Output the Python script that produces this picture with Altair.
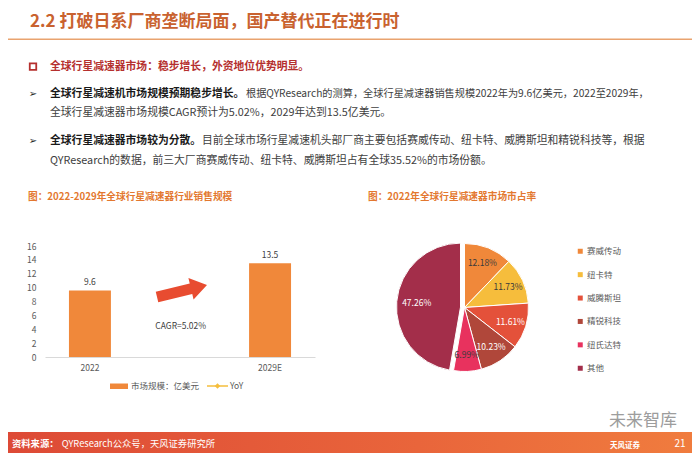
import altair as alt
import pandas as pd

# ---------------- data ----------------
slide_title = "2.2 打破日系厂商垄断局面，国产替代正在进行时"
section_head = "全球行星减速器市场：稳步增长，外资地位优势明显。"
bullet1_bold = "全球行星减速机市场规模预期稳步增长。"
bullet1_rest = "根据QYResearch的测算，全球行星减速器销售规模2022年为9.6亿美元，2022至2029年，"
bullet1_line2 = "全球行星减速器市场规模CAGR预计为5.02%，2029年达到13.5亿美元。"
bullet2_bold = "全球行星减速器市场较为分散。"
bullet2_rest = "目前全球市场行星减速机头部厂商主要包括赛威传动、纽卡特、威腾斯坦和精锐科技等，根据"
bullet2_line2 = "QYResearch的数据，前三大厂商赛威传动、纽卡特、威腾斯坦占有全球35.52%的市场份额。"

bar_title = "图：2022-2029年全球行星减速器行业销售规模"
pie_title = "图：2022年全球行星减速器市场市占率"

years = ["2022", "2029E"]
market_size = [9.6, 13.5]
y_ticks = [0, 2, 4, 6, 8, 10, 12, 14, 16]
cagr_label = "CAGR=5.02%"
bar_legend_labels = ["市场规模：亿美元", "YoY"]

companies = ["赛威传动", "纽卡特", "威腾斯坦", "精锐科技", "纽氏达特", "其他"]
shares = [12.18, 11.73, 11.61, 10.23, 6.99, 47.26]

source_label = "资料来源："
source_text = "QYResearch公众号，天风证券研究所"
page_number = "21"
watermark = "未来智库"
logo_text = "天风证券"

# ---------------- styling ----------------
FONT = "Noto Sans CJK SC"
W, H = 684, 445
ORANGE = "#F0883A"
YOY = "#F5BE3C"
pie_colors = ["#F0883A", "#F6BD3C", "#E4513A", "#B0473A", "#E8325E", "#A32E4A"]
CX, CY, R = 456.5, 299.5, 64


def label(text, x, y, size, color, weight="normal", align="left", baseline="middle", font=FONT, **kw):
    return alt.Chart(pd.DataFrame({"t": [text]})).mark_text(
        align=align, baseline=baseline, fontSize=size, color=color,
        fontWeight=weight, font=font, **kw
    ).encode(x=alt.value(x), y=alt.value(y), text="t:N")


layers = []

# ---- header ----
layers.append(label(slide_title, 22, 13.7, 17, "#C9622F", weight="bold"))
layers.append(
    alt.Chart(pd.DataFrame({"t": [slide_title]})).mark_rule(color="#E9A36F", strokeWidth=1.5)
    .encode(x=alt.value(0), x2=alt.value(W), y=alt.value(31.3))
)

# ---- body text ----
layers.append(
    alt.Chart(pd.DataFrame({"t": [section_head]})).mark_point(
        shape="square", filled=False, size=42, strokeWidth=1.8, color="#B5302E", opacity=1)
    .encode(x=alt.value(25), y=alt.value(58.7))
)
layers.append(label(section_head, 42, 58.7, 10.8, "#B5302E", weight="bold"))
for yy in (86.3, 133):
    layers.append(label("➢", 25, yy, 10, "#262626", align="center", font="DejaVu Sans"))
layers.append(label(bullet1_bold, 42, 86.3, 10.8, "#1a1a1a", weight="bold"))
layers.append(label(bullet1_rest, 238, 86.3, 10.2, "#404040"))
layers.append(label(bullet1_line2, 42, 105.3, 10.8, "#404040"))
layers.append(label(bullet2_bold, 42, 133, 10.8, "#1a1a1a", weight="bold"))
layers.append(label(bullet2_rest, 194, 133, 10.8, "#404040"))
layers.append(label(bullet2_line2, 42, 153, 10.8, "#404040"))

# ---- chart titles ----
layers.append(label(bar_title, 20, 189.3, 9.7, "#E3782F", weight="bold"))
layers.append(label(pie_title, 360, 189.3, 9.7, "#E3782F", weight="bold"))

# ---- bar chart ----
bar_df = pd.DataFrame({"year": years, "size": market_size})
x_enc = alt.X(
    "year:N", sort=years,
    scale=alt.Scale(range=[37, 307], paddingInner=0.767, paddingOuter=0.133),
    axis=alt.Axis(orient="bottom", offset=349 - H, title=None, labelAngle=0, ticks=False,
                  domainColor="#D9D9D9", labelFontSize=8.5, labelColor="#595959",
                  labelPadding=6, labelFont=FONT, grid=False),
)
y_enc = alt.Y(
    "size:Q",
    scale=alt.Scale(domain=[0, 16], range=[349, 238], nice=False, zero=True),
    axis=alt.Axis(orient="left", offset=-37, values=y_ticks, title=None, domain=False,
                  ticks=False, grid=False, labelPadding=9, labelFontSize=8.5,
                  labelColor="#595959", labelFont=FONT),
)
layers.append(alt.Chart(bar_df).mark_bar(color=ORANGE).encode(x=x_enc, y=y_enc))
layers.append(
    alt.Chart(bar_df).mark_text(baseline="bottom", dy=-3, fontSize=8.5, color="#404040", font=FONT)
    .encode(x=x_enc, y=y_enc, text=alt.Text("size:Q", format=".1f"))
)

# arrow + CAGR
ARROW = "M -1 -0.21 L 0.36 -0.21 L 0.36 -0.43 L 1 0 L 0.36 0.43 L 0.36 0.21 L -1 0.21 Z"
layers.append(
    alt.Chart(pd.DataFrame({"t": [cagr_label]})).mark_point(
        shape=ARROW, filled=True, size=2642, angle=346.5, color="#E84C30", opacity=1, strokeWidth=0)
    .encode(x=alt.value(174), y=alt.value(283))
)
layers.append(label(cagr_label, 172.7, 318, 8.5, "#404040", align="center"))

# bar legend
layers.append(
    alt.Chart(pd.DataFrame({"t": [bar_legend_labels[0]]})).mark_rect(color=ORANGE)
    .encode(x=alt.value(102), x2=alt.value(120), y=alt.value(375.5), y2=alt.value(381))
)
layers.append(label(bar_legend_labels[0], 123, 378, 8.5, "#595959"))
layers.append(
    alt.Chart(pd.DataFrame({"t": [bar_legend_labels[1]]})).mark_rule(color=YOY, strokeWidth=1.5)
    .encode(x=alt.value(199), x2=alt.value(220), y=alt.value(378))
)
layers.append(
    alt.Chart(pd.DataFrame({"t": [bar_legend_labels[1]]})).mark_point(
        shape="diamond", filled=True, size=30, color=YOY, opacity=1)
    .encode(x=alt.value(209.5), y=alt.value(378))
)
layers.append(label(bar_legend_labels[1], 222, 378, 8.5, "#595959"))

# ---- pie chart ----
pie_df = pd.DataFrame({"company": companies, "share": shares, "order": list(range(len(companies)))})
pie_base = alt.Chart(pie_df).transform_window(
    cum="sum(share)", sort=[alt.SortField("order")], frame=[None, 0]
).transform_calculate(
    start="datum.cum - datum.share",
    mid="datum.cum - datum.share / 2",
    label="format(datum.share, '.2f') + '%'",
)
theta_scale = alt.Scale(domain=[0, 100])
color_enc = alt.Color(
    "company:N", sort=companies,
    scale=alt.Scale(domain=companies, range=pie_colors),
    legend=alt.Legend(orient="none", legendX=568, legendY=239, title=None, symbolType="square",
                      symbolSize=25, symbolStrokeWidth=0, labelFontSize=8.5, labelColor="#595959",
                      labelFont=FONT, rowPadding=14.4, labelOffset=2.5, direction="vertical"),
)
layers.append(
    pie_base.transform_filter("datum.company != '其他'")
    .mark_arc(outerRadius=R, stroke="white", strokeWidth=1)
    .encode(theta=alt.Theta("start:Q", scale=theta_scale, stack=None), theta2="cum:Q",
            color=color_enc, x=alt.value(CX), y=alt.value(CY))
)
layers.append(
    pie_base.transform_filter("datum.company == '其他'")
    .mark_arc(outerRadius=R, stroke="white", strokeWidth=1)
    .encode(theta=alt.Theta("start:Q", scale=theta_scale, stack=None), theta2="cum:Q",
            color=color_enc, x=alt.value(CX - 4), y=alt.value(CY - 0.4))
)
layers.append(
    pie_base.mark_text(radius=48, fontSize=8.5, font=FONT)
    .encode(theta=alt.Theta("mid:Q", scale=theta_scale, stack=None), text="label:N",
            x=alt.value(CX), y=alt.value(CY),
            color=alt.condition("indexof(['赛威传动','纽卡特','纽氏达特'], datum.company) >= 0",
                                alt.value("#3a3a3a"), alt.value("white")))
)

# ---- footer ----
layers.append(
    alt.Chart(pd.DataFrame({"t": [source_text]})).mark_rect(
        color=alt.LinearGradient(gradient="linear", x1=0, x2=1, y1=0, y2=0,
                                 stops=[alt.GradientStop(color="#DD4A36", offset=0),
                                        alt.GradientStop(color="#E9653B", offset=0.6),
                                        alt.GradientStop(color="#F07C3E", offset=1)]))
    .encode(x=alt.value(0), x2=alt.value(W), y=alt.value(424), y2=alt.value(H))
)
layers.append(label(watermark, 635, 413, 17, "#8c8c8c", align="center", opacity=0.85))
layers.append(label(source_label, 4, 436, 9.3, "white", weight="bold"))
layers.append(label(source_text, 53.7, 436, 9.3, "white"))
layers.append(label(logo_text, 617, 438, 7.5, "white", weight="bold", align="center"))
layers.append(label(page_number, 672, 436, 10, "white", align="center"))

chart = alt.layer(*layers).properties(
    width=W, height=H, autosize=alt.AutoSizeParams(type="none"), padding=0, background="white"
).configure(font=FONT).configure_view(stroke=None)

chart.save("out.html", embed_options={"renderer": "svg", "actions": False})
